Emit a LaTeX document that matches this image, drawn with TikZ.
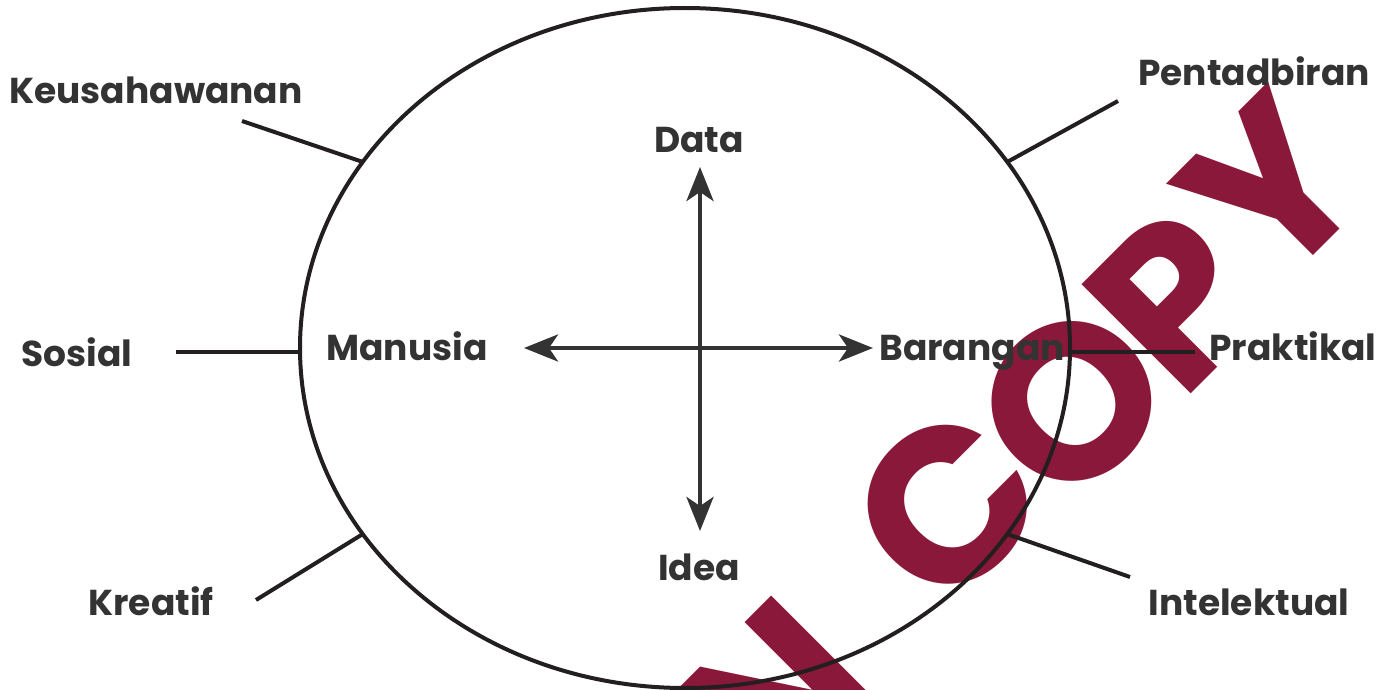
\documentclass[tikz,border=0pt]{standalone}
\usepackage{fontspec}
\setmainfont{Poppins}
\usetikzlibrary{calc,arrows.meta,shapes.geometric}

\definecolor{inkgrey}{HTML}{333333}
\definecolor{ringblack}{HTML}{231F20}
\definecolor{stampred}{RGB}{138,24,58}

\tikzset{
	lbl/.style={font=\bfseries\fontsize{36}{40}\selectfont, text=inkgrey, inner sep=0pt, anchor=base},
	spoke/.style={ringblack, line width=4pt},
	biarrow/.style={inkgrey, line width=4.5pt,
		{Stealth[length=34pt,width=27pt,inset=9pt]}-{Stealth[length=34pt,width=27pt,inset=9pt]}},
	stamp/.style={font=\bfseries\fontsize{220}{230}\selectfont, text=stampred, inner sep=0pt, rotate=45},
}

\begin{document}
\begin{tikzpicture}[x=1pt,y=-1pt]
		\useasboundingbox (0,0) rectangle (1397,690);

		% watermark letters, behind everything
		\begin{scope}
			\clip (0,0) rectangle (1397,690);
			\foreach \ch/\px/\py in {N/777/699, C/947/505, O/1072/402, P/1175/300, Y/1272/188} {
				\node[stamp] (stamp\ch) at (\px,\py) {\ch};
			}
		\end{scope}

		\node[ellipse, draw=ringblack, line width=4pt, minimum width=770pt, minimum height=680pt,
			inner sep=0pt, outer sep=0pt] (ring) at (685,348) {};

		% cross
		\coordinate (top) at (700,167);
		\coordinate (bottom) at (700,531);
		\coordinate (left) at (524,348);
		\coordinate (right) at (873,348);
		\draw[biarrow] (top) -- (bottom);
		\draw[biarrow] (left) -- (right);

		\node[lbl] (data) at (699,153) {Data};
		\node[lbl] (idea) at (699,580) {Idea};
		\node[lbl] (manusia) at (407,360) {Manusia};
		\node[lbl] (barangan) at (972,360) {Barangan};

		% outside labels and spokes
		\node[lbl] (keusahawanan) at (156,104) {Keusahawanan};
		\node[lbl] (pentadbiran) at (1254,86) {Pentadbiran};
		\node[lbl] (sosial) at (77,366) {Sosial};
		\node[lbl] (praktikal) at (1293,360) {Praktikal};
		\node[lbl] (kreatif) at (151,615) {Kreatif};
		\node[lbl] (intelektual) at (1249,615) {Intelektual};

		\coordinate (kEnd) at (242,121);
		\coordinate (pEnd) at (1118,101);
		\coordinate (sEnd) at (176,352);
		\coordinate (prEnd) at (1195,352);
		\coordinate (krEnd) at (256,600);
		\coordinate (iEnd) at (1130,577);

		\draw[spoke] (ring.150) -- (kEnd);
		\draw[spoke] (ring.30) -- (pEnd);
		\draw[spoke] (sEnd -| ring.west) -- (sEnd);
		\draw[spoke] (prEnd -| ring.east) -- (prEnd);
		\draw[spoke] (ring.210) -- (krEnd);
		\draw[spoke] (ring.330) -- (iEnd);

	\end{tikzpicture}
\end{document}
